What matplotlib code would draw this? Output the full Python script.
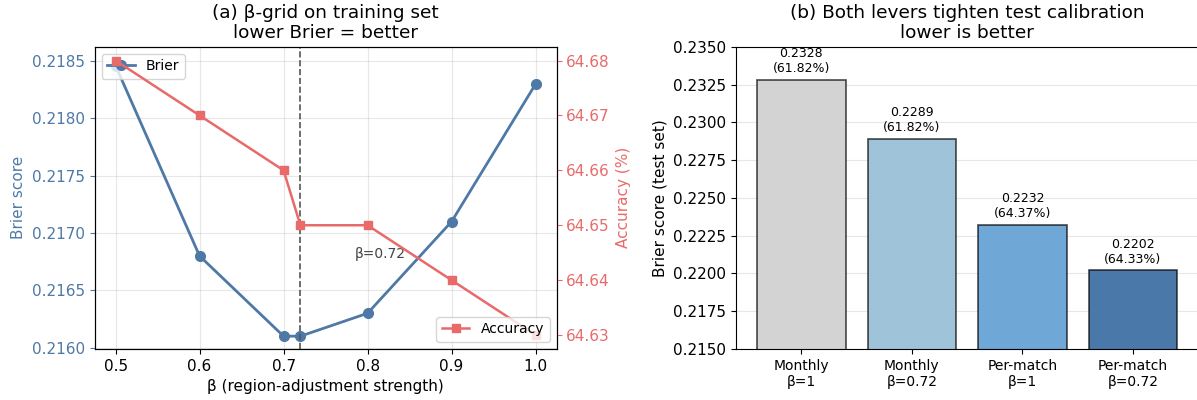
import numpy as np
import matplotlib
matplotlib.use('Agg')
import matplotlib.pyplot as plt

# данные панели (a)
betas = [0.5, 0.6, 0.7, 0.72, 0.8, 0.9, 1.0]
brier_train = [0.21846, 0.2168, 0.2161, 0.2161, 0.2163, 0.2171, 0.2183]
acc_train = [64.68, 64.67, 64.66, 64.65, 64.65, 64.64, 64.63]
best_beta = 0.72

# данные панели (b)
bar_labels = ['Monthly\nβ=1', 'Monthly\nβ=0.72', 'Per-match\nβ=1', 'Per-match\nβ=0.72']
brier_test = [0.2328, 0.2289, 0.2232, 0.2202]
acc_test = [61.82, 61.82, 64.37, 64.33]
bar_colors = ['#d3d3d3', '#9fc3d8', '#6fa7d6', '#4a78a8']

blue = '#4e79a7'
red = '#e86a6a'

fig = plt.figure(figsize=(11.97, 4.0), dpi=100)
ax1 = fig.add_axes([0.079, 0.128, 0.386, 0.755])
ax3 = fig.add_axes([0.615, 0.128, 0.386, 0.755])

# (a) сетка по beta
ax1.plot(betas, brier_train, '-o', color=blue, lw=2, ms=7, label='Brier')
ax1.set_ylabel('Brier score', color=blue, fontsize=11)
ax1.tick_params(axis='y', colors=blue, labelsize=11)
ax1.tick_params(axis='x', labelsize=11)
ax1.set_xlabel('β (region-adjustment strength)', fontsize=11)
ax1.set_ylim(0.21599, 0.218625)
ax1.set_xticks([0.5, 0.6, 0.7, 0.8, 0.9, 1.0])
ax1.grid(True, alpha=0.3)
ax1.axvline(best_beta, color='#555555', ls='--', lw=1.2)
ax1.text(0.785, 0.21678, 'β=0.72', color='#444444', fontsize=10)

ax2 = ax1.twinx()
ax2.plot(betas, acc_train, '-s', color=red, lw=1.8, ms=6, label='Accuracy')
ax2.set_ylabel('Accuracy (%)', color=red, fontsize=11)
ax2.tick_params(axis='y', colors=red, labelsize=11)
ax2.set_ylim(64.6275, 64.6825)

ax1.legend(loc='upper left', fontsize=10)
ax2.legend(loc='lower right', fontsize=10)
ax1.set_title('(a) β-grid on training set\nlower Brier = better', fontsize=13.3)

# (b) тестовый набор
x = np.arange(len(brier_test))
bars = ax3.bar(x, brier_test, color=bar_colors, edgecolor=(0, 0, 0, 0.7), lw=1.2, width=0.8)
for i in range(len(brier_test)):
    ax3.text(x[i], brier_test[i] + 0.0003, f'{brier_test[i]:.4f}\n({acc_test[i]:.2f}%)',
             ha='center', va='bottom', fontsize=9)
ax3.set_xticks(x)
ax3.set_xticklabels(bar_labels, fontsize=10)
ax3.set_ylim(0.215, 0.235)
ax3.set_yticks(np.arange(0.215, 0.2351, 0.0025))
ax3.yaxis.set_major_formatter(matplotlib.ticker.FormatStrFormatter('%.4f'))
ax3.tick_params(axis='y', labelsize=11)
ax3.set_ylabel('Brier score (test set)', fontsize=11)
ax3.grid(True, axis='y', alpha=0.3)
ax3.set_axisbelow(True)
ax3.set_title('(b) Both levers tighten test calibration\nlower is better', fontsize=13.3)

plt.savefig('out.png', dpi=100)
